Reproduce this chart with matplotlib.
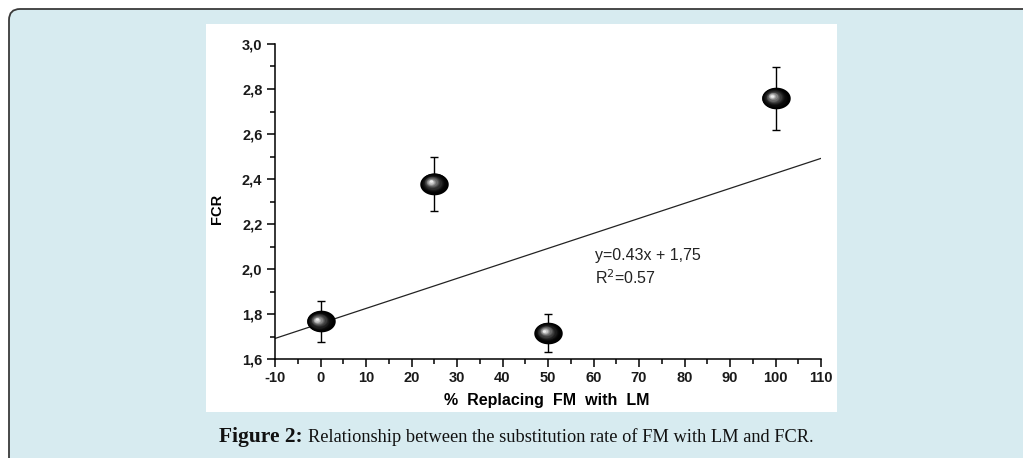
import matplotlib
matplotlib.use("Agg")
import matplotlib.pyplot as plt
import numpy as np
from matplotlib.patches import FancyBboxPatch, Rectangle
from matplotlib.path import Path
from matplotlib.transforms import IdentityTransform, ScaledTranslation
from matplotlib.ticker import MultipleLocator, FormatStrFormatter, FuncFormatter

# data
replacement = [0, 25, 50, 100]
fcr = [1.767, 2.38, 1.717, 2.76]
fcr_err = [0.09, 0.12, 0.085, 0.14]
fit_slope = 0.00667
fit_intercept = 1.758
fit_range = [-10, 110]

W, H = 1023, 458
fig = plt.figure(figsize=(W / 100, H / 100), dpi=100, facecolor="white")

# light blue rounded panel behind everything
box = FancyBboxPatch((9, -20), W + 40, H - 9 + 20, boxstyle="round,pad=0,rounding_size=11",
                     transform=IdentityTransform(), facecolor="#d7ebf0", edgecolor="#3a3a3a",
                     linewidth=1.3, zorder=-2)
fig.patches.append(box)
# white picture area
fig.patches.append(Rectangle((206, H - 412), 631, 388, transform=IdentityTransform(),
                             facecolor="white", edgecolor="none", zorder=-1))

ax = fig.add_axes([275 / W, 1 - 359 / H, (821 - 275) / W, (359 - 44) / H])
ax.set_zorder(2)
ax.set_facecolor("none")
ax.set_xlim(-10, 110)
ax.set_ylim(1.6, 3.0)
for s in ["top", "right"]:
    ax.spines[s].set_visible(False)
for s in ["left", "bottom"]:
    ax.spines[s].set_linewidth(1.1)

ax.xaxis.set_major_locator(MultipleLocator(10))
ax.xaxis.set_minor_locator(MultipleLocator(5))
ax.yaxis.set_major_locator(MultipleLocator(0.2))
ax.yaxis.set_minor_locator(MultipleLocator(0.1))
ax.yaxis.set_major_formatter(FuncFormatter(lambda v, p: f"{v:.1f}".replace(".", ",")))
ax.xaxis.set_major_formatter(FormatStrFormatter("%d"))
ax.tick_params(which="major", direction="out", length=6, width=1.1, pad=3,
               labelsize=10.5)
ax.tick_params(which="minor", direction="out", length=3.5, width=1.1)
for lab in ax.get_xticklabels() + ax.get_yticklabels():
    lab.set_fontfamily("Liberation Sans")
    lab.set_fontweight("bold")
    lab.set_color("#1a1a1a")

# regression line
xs = np.array(fit_range, dtype=float)
ax.plot(xs, fit_intercept + fit_slope * xs, color="#222222", lw=0.9, zorder=2)

# error bars
ax.errorbar(replacement, fcr, yerr=fcr_err, fmt="none", ecolor="black",
            elinewidth=1.0, capsize=2.8, capthick=1.0, zorder=3)

# shiny ellipse markers
t = np.linspace(0, 2 * np.pi, 60)
ell = Path(np.column_stack([np.cos(t), 0.76 * np.sin(t)]), closed=True)
n = 14
for k in range(n):
    f = k / (n - 1)
    size = 20.5 * (1 - 0.88 * f)
    g = 0.92 * f ** 2.2
    off = ScaledTranslation(-2.6 / 72 * f, 1.5 / 72 * f, fig.dpi_scale_trans)
    ax.plot(replacement, fcr, linestyle="none", marker=ell, markersize=size,
            color=(g, g, g), markeredgewidth=0, transform=ax.transData + off, zorder=4 + k * 0.01)

ax.text(60.3, 2.062, "y=0.43x + 1,75", fontsize=11.5, fontfamily="Liberation Sans",
        va="center", ha="left", color="#222222")
ax.text(60.3, 1.96, r"R$^2$=0.57", fontsize=11.5, fontfamily="Liberation Sans",
        va="center", ha="left", color="#222222")

fig.text(217 / W, 1 - 209 / H, "FCR", rotation=90, fontsize=10.5, fontweight="bold",
         fontfamily="Liberation Sans", ha="center", va="center")
fig.text(547 / W, 1 - 401 / H, "%  Replacing  FM  with  LM", fontsize=11.5, fontweight="bold",
         fontfamily="Liberation Sans", ha="center", va="center")

# caption
fig.text(303 / W, 1 - 437 / H, "Figure 2:", fontsize=15.5, fontweight="bold",
         fontfamily="Liberation Serif", ha="right", va="center", color="#111111")
fig.text(308 / W, 1 - 437 / H, "Relationship between the substitution rate of FM with LM and FCR.",
         fontsize=13.2, fontfamily="Liberation Serif", ha="left", va="center", color="#111111")

fig.savefig("out.png", dpi=100)
